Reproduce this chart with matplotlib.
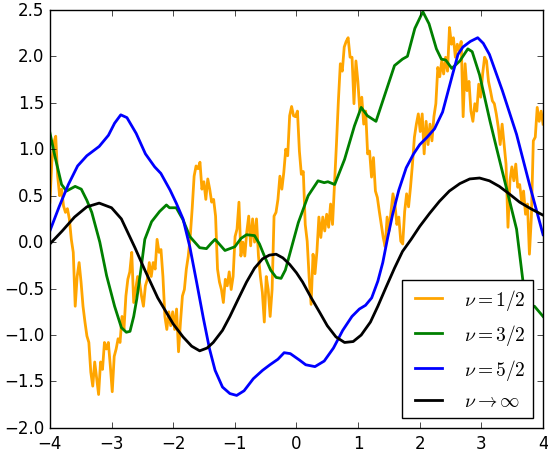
import numpy as np
import matplotlib
matplotlib.use("Agg")
import matplotlib.pyplot as plt

# nu = 1/2 sample (rough) left to right
y_half = [
    0.43, 0.86, 1.07, 1.14, 0.71, 0.50, 0.57, 0.39,
    0.32, 0.36, 0.25, 0.03, -0.11, -0.69, -0.37, -0.22, -0.43, -0.69,
    -0.86, -1.01, -1.08, -1.40, -1.55, -1.29, -1.47, -1.64, -1.29, -1.37,
    -1.08, -1.15, -1.08, -1.33, -1.61, -1.23, -1.15, -1.04, -1.08, -0.80,
    -0.94, -0.58, -0.40, -0.32, -0.11, -0.65, -0.51, -0.37, -0.43, -0.58,
    -0.69, -0.47, -0.40, -0.22, -0.37, -0.22, -0.29, 0.03, -0.11, -0.08,
    -0.37, -0.80, -0.94, -0.75, -0.90,
    -0.75, -0.94, -0.72, -1.18, -0.86, -0.58, -0.51, -0.29, -0.15, 0.06,
    0.36, 0.71, 0.82, 0.79, 0.86, 0.57, 0.65, 0.46, 0.68, 0.57,
    0.43, 0.46, 0.28, -0.29, -0.43, -0.51, -0.65, -0.40, -0.47, -0.32,
    -0.51, -0.37, 0.06, 0.14, 0.43, -0.15, 0.00, -0.15, 0.11, 0.28,
    -0.04, 0.25, 0.00, 0.25, -0.15, -0.37, -0.54, -0.86, -0.37, -0.51,
    -0.80, -0.51, 0.28, 0.32, 0.46, 0.71, 0.57, 0.75, 1.00, 0.93,
    1.36, 1.46, 1.36,
    1.35, 1.41, 0.98, 0.73, 0.76, 0.19, 0.01, -0.38,
    -0.67,
    -0.13, -0.34, -0.10, 0.27, 0.05, 0.27, 0.12, 0.30, 0.16, 0.41,
    0.19, 0.62, 1.05, 1.52, 1.92, 1.84, 2.10, 2.16, 2.20, 1.99,
    1.99, 1.49, 1.95, 1.73, 1.41, 1.56, 1.27, 1.41, 0.95, 0.98,
    0.70, 0.91, 0.55, 0.48, 0.33, 0.19, 0.05, -0.05, 0.27, 0.12,
    0.33, 0.52, 0.41, 0.19, 0.27, 0.01,
    -0.02,
    0.33, 0.52, 0.38, 0.59, 0.84, 1.13, 1.27, 1.38,
    1.19, 1.38, 0.95, 1.30, 1.05, 1.27, 1.09, 1.35, 1.49,
    1.88,
    1.78, 1.95, 1.81, 1.99, 1.84, 2.31, 2.13, 2.20, 1.99, 2.13,
    2.06, 2.16, 1.35, 1.92, 1.63, 1.73, 1.41, 1.30, 1.49, 1.41,
    1.70, 1.56, 1.81, 1.99, 1.95, 1.73, 1.63, 1.52, 1.49, 1.38,
    1.24, 1.05, 1.27, 1.05, 0.84,
    0.16,
    0.66, 0.81, 0.66, 0.84, 0.59, 0.62, 0.44, 0.55, 0.30, 0.41, -0.13,
    0.27,
    1.09, 1.13, 1.45, 1.30, 1.41, 1.27,
]
x_half = np.linspace(-4, 4, len(y_half))

# nu = 3/2 sample
x_32 = [-4.0, -3.92, -3.81, -3.73, -3.59, -3.49, -3.4, -3.32, -3.19, -3.08,
        -2.95, -2.84, -2.76, -2.7, -2.64, -2.59, -2.52, -2.46, -2.35, -2.22,
        -2.11, -2.06, -1.95, -1.84, -1.73, -1.57, -1.46, -1.38, -1.32, -1.24,
        -1.16, -1.0, -0.9, -0.81, -0.68, -0.6, -0.52, -0.42, -0.33, -0.25,
        -0.18, -0.11, 0.03, 0.19, 0.35, 0.45, 0.51, 0.62, 0.78, 0.94,
        1.05, 1.15, 1.29, 1.45, 1.59, 1.72, 1.8, 1.92, 2.05, 2.15,
        2.27, 2.35, 2.42, 2.52, 2.65, 2.78, 2.85, 2.97, 3.14, 3.25,
        3.41, 3.57, 3.67, 3.73, 3.8, 3.86, 4.0]
y_32 = [1.18, 0.93, 0.62, 0.55, 0.6, 0.57, 0.45, 0.32, 0.0, -0.36,
        -0.69, -0.92, -0.97, -0.96, -0.8, -0.61, -0.28, 0.03, 0.22, 0.33,
        0.4, 0.37, 0.37, 0.24, 0.06, -0.06, -0.07, -0.01, 0.03, -0.03,
        -0.09, -0.05, 0.04, 0.08, 0.07, -0.02, -0.15, -0.3, -0.38, -0.39,
        -0.3, -0.13, 0.21, 0.5, 0.66, 0.64, 0.65, 0.62, 0.89, 1.25,
        1.45, 1.36, 1.3, 1.62, 1.9, 1.97, 2.0, 2.3, 2.48, 2.35,
        2.08, 1.97, 1.96, 1.87, 1.95, 2.08, 2.05, 1.8, 1.3, 1.0,
        0.57, 0.14, -0.4, -0.65, -0.7, -0.69, -0.8]

# nu = 5/2 sample
x_52 = [-4.0, -3.85, -3.7, -3.55, -3.4, -3.2, -3.05, -2.95, -2.85, -2.75,
        -2.6, -2.45, -2.3, -2.2, -2.05, -1.95, -1.84, -1.73, -1.62, -1.51,
        -1.41, -1.32, -1.2, -1.08, -0.97, -0.85, -0.7, -0.55, -0.43, -0.3,
        -0.2, -0.1, 0.05, 0.15, 0.3, 0.45, 0.6, 0.75, 0.9, 1.02,
        1.12, 1.22, 1.32, 1.4, 1.48, 1.56, 1.66, 1.78, 1.9, 2.0,
        2.12, 2.24, 2.37, 2.53, 2.62, 2.7, 2.82, 2.94, 3.03, 3.13,
        3.34, 3.57, 3.78, 4.0]
y_52 = [0.12, 0.38, 0.62, 0.82, 0.93, 1.03, 1.15, 1.28, 1.37, 1.34,
        1.17, 0.95, 0.81, 0.74, 0.56, 0.42, 0.25, -0.05, -0.43, -0.82,
        -1.15, -1.38, -1.56, -1.63, -1.65, -1.6, -1.47, -1.38, -1.32, -1.26,
        -1.19, -1.2, -1.27, -1.32, -1.34, -1.28, -1.14, -0.95, -0.8, -0.72,
        -0.68, -0.6, -0.42, -0.22, 0.05, 0.3, 0.56, 0.8, 0.95, 1.05,
        1.13, 1.22, 1.4, 1.8, 2.02, 2.1, 2.16, 2.2, 2.14, 2.02,
        1.63, 1.16, 0.62, 0.08]

# nu -> infinity sample (squared exponential)
x_inf = [-4.0, -3.8, -3.6, -3.4, -3.2, -3.0, -2.84, -2.62, -2.46, -2.25,
         -2.0, -1.84, -1.7, -1.57, -1.45, -1.35, -1.2, -1.08, -0.95, -0.81,
         -0.68, -0.55, -0.44, -0.33, -0.22, -0.11, 0.0, 0.1, 0.24, 0.38,
         0.5, 0.64, 0.78, 0.92, 1.05, 1.2, 1.32, 1.45, 1.59, 1.72,
         1.86, 2.0, 2.16, 2.32, 2.48, 2.65, 2.81, 2.97, 3.13, 3.29,
         3.45, 3.62, 3.8, 4.0]
y_inf = [-0.02, 0.12, 0.27, 0.38, 0.42, 0.37, 0.25, -0.06, -0.3, -0.6,
         -0.88, -1.02, -1.12, -1.17, -1.14, -1.08, -0.95, -0.8, -0.62, -0.43,
         -0.28, -0.18, -0.14, -0.13, -0.17, -0.24, -0.33, -0.43, -0.6, -0.76,
         -0.9, -1.02, -1.08, -1.07, -1.0, -0.86, -0.69, -0.49, -0.28, -0.1,
         0.03, 0.17, 0.31, 0.44, 0.55, 0.63, 0.68, 0.69, 0.66, 0.6,
         0.52, 0.43, 0.36, 0.29]

plt.style.use("classic")
plt.rcParams["mathtext.fontset"] = "cm"

fig = plt.figure(figsize=(5.48, 4.52), dpi=100, facecolor="white")
ax = fig.add_axes([0.091, 0.051, 0.9, 0.925])

ax.plot(x_half, y_half, color="orange", lw=2, label=r"$\nu=1/2$")
ax.plot(x_32, y_32, color="green", lw=2, label=r"$\nu=3/2$")
ax.plot(x_52, y_52, color="blue", lw=2, label=r"$\nu=5/2$")
ax.plot(x_inf, y_inf, color="black", lw=2, label=r"$\nu\to\infty$")

ax.set_xlim(-4, 4)
ax.set_ylim(-2, 2.5)
ax.legend(loc="lower right", fontsize=14)

fig.savefig("out.png", dpi=100, facecolor="white")
